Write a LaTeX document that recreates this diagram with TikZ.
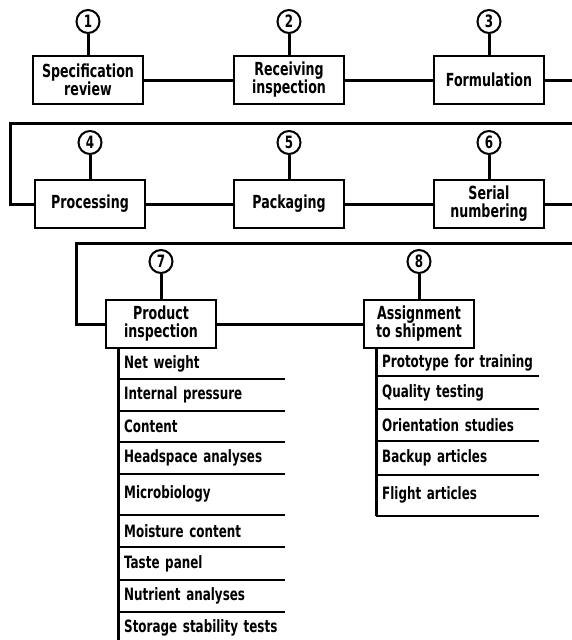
\documentclass[tikz,border=0pt]{standalone}
\usepackage{fontspec}
\setmainfont[FakeStretch=0.78]{DejaVu Sans Condensed}
\usetikzlibrary{positioning}
\tikzset{
  stage/.style={draw, line width=2pt, minimum width=110pt, minimum height=48pt,
    align=center, inner sep=2pt, font=\bfseries\fontsize{18}{18}\selectfont},
  num/.style={draw, circle, line width=2pt, minimum size=23pt, inner sep=0pt,
    font=\bfseries\fontsize{17}{17}\selectfont},
  flow/.style={line width=3pt},
  rule/.style={line width=2pt},
  item/.style={minimum height=32pt, inner xsep=6pt, inner ysep=0pt, align=left,
    text width=175pt, font=\bfseries\fontsize{17}{17}\selectfont}
}
\begin{document}
\begin{tikzpicture}[x=1pt,y=-1pt]
\useasboundingbox (0,0) rectangle (572,640);

% production stages
\node[stage] (b1) at (88,80) {Specification\\review};
\node[stage] (b2) at (289,80) {Receiving\\inspection};
\node[stage] (b3) at (489,80) {Formulation};
\node[stage] (b4) at (90,204) {Processing};
\node[stage] (b5) at (289,204) {Packaging};
\node[stage] (b6) at (489,204) {Serial\\numbering};
\node[stage] (b7) at (161,324) {Product\\inspection};
\node[stage] (b8) at (419,324) {Assignment\\to shipment};

\node[num, above=21pt of b1] (c1) {1};
\node[num, above=21pt of b2] (c2) {2};
\node[num, above=21pt of b3] (c3) {3};
\node[num, above=24pt of b4] (c4) {4};
\node[num, above=24pt of b5] (c5) {5};
\node[num, above=24pt of b6] (c6) {6};
\node[num, above=25pt of b7] (c7) {7};
\node[num, above=25pt of b8] (c8) {8};

\draw[flow] (c1) -- (b1);
\draw[flow] (c2) -- (b2);
\draw[flow] (c3) -- (b3);
\draw[flow] (c4) -- (b4);
\draw[flow] (c5) -- (b5);
\draw[flow] (c6) -- (b6);
\draw[flow] (c7) -- (b7);
\draw[flow] (c8) -- (b8);

\draw[flow] (b1) -- (b2);
\draw[flow] (b2) -- (b3);
\draw[flow] (b3.east) -- ++(28,0) |- (10,123) |- (b4.west);
\draw[flow] (b4) -- (b5);
\draw[flow] (b5) -- (b6);
\draw[flow] (b6.east) -- ++(28,0) |- (76,243) |- (b7.west);
\draw[flow] (b7) -- (b8);

% product inspection checks
\node[item, minimum height=30pt, anchor=north west] (p1) at ([xshift=13pt]b7.south west) {Net weight};
\node[item, minimum height=31pt, below=0pt of p1] (p2) {Internal pressure};
\node[item, minimum height=31pt, below=0pt of p2] (p3) {Content};
\node[item, minimum height=31pt, below=0pt of p3] (p4) {Headspace analyses};
\node[item, minimum height=41pt, below=0pt of p4] (p5) {Microbiology};
\node[item, below=0pt of p5] (p6) {Moisture content};
\node[item, below=0pt of p6] (p7) {Taste panel};
\node[item, below=0pt of p7] (p8) {Nutrient analyses};
\node[item, minimum height=30pt, below=0pt of p8] (p9) {Storage stability tests};

\draw[flow] (p1.north west) -- (p9.south west);
\draw[rule] (p1.south west) -- ++(167,0);
\draw[rule] (p2.south west) -- ++(167,0);
\draw[rule] (p3.south west) -- ++(167,0);
\draw[rule] (p4.south west) -- ++(167,0);
\draw[rule] (p5.south west) -- ++(167,0);
\draw[rule] (p6.south west) -- ++(167,0);
\draw[rule] (p7.south west) -- ++(167,0);
\draw[rule] (p8.south west) -- ++(167,0);
\draw[rule] (p9.south west) -- ++(167,0);

% shipment assignment
\node[item, minimum height=27pt, anchor=north west] (s1) at ([xshift=13pt]b8.south west) {Prototype for training};
\node[item, below=0pt of s1] (s2) {Quality testing};
\node[item, below=0pt of s2] (s3) {Orientation studies};
\node[item, minimum height=33pt, below=0pt of s3] (s4) {Backup articles};
\node[item, minimum height=41pt, below=0pt of s4] (s5) {Flight articles};

\draw[flow] (s1.north west) -- (s5.south west);
\draw[rule] (s1.south west) -- ++(163,0);
\draw[rule] (s2.south west) -- ++(163,0);
\draw[rule] (s3.south west) -- ++(163,0);
\draw[rule] (s4.south west) -- ++(163,0);
\draw[rule] (s5.south west) -- ++(163,0);
\end{tikzpicture}
\end{document}
